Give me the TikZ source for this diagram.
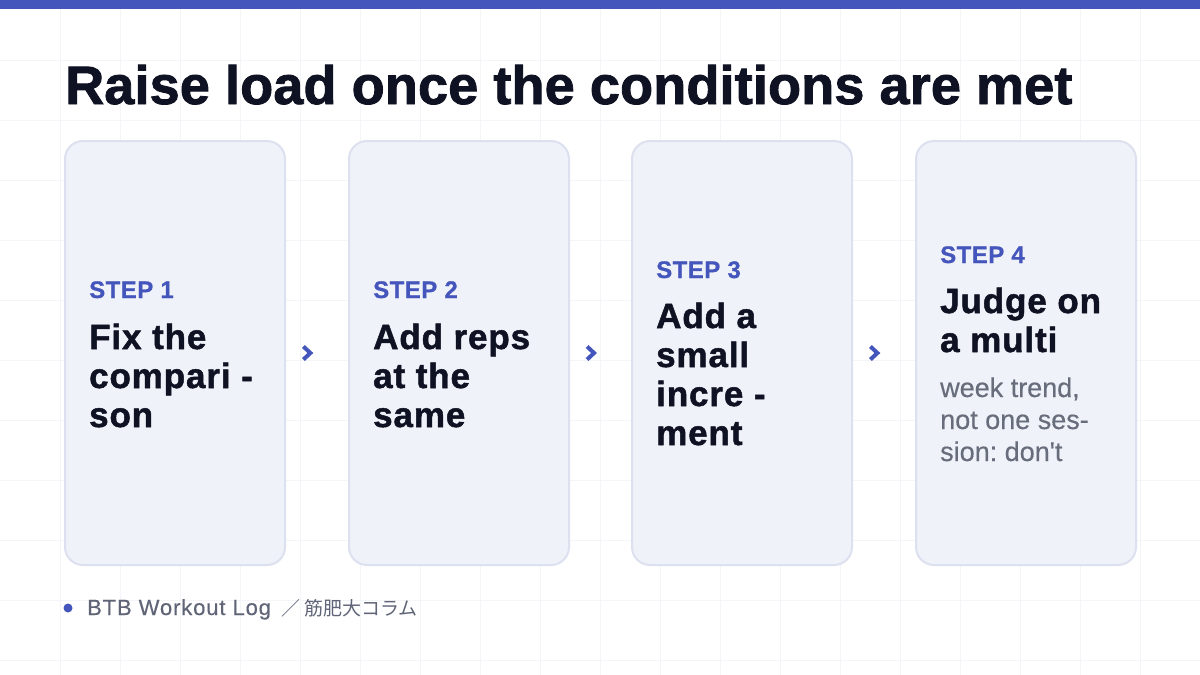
\documentclass[tikz,border=0pt]{standalone}
\usepackage{fontspec}
\setmainfont{Liberation Sans}
\newfontfamily\titlefont{Liberation Sans}[BoldFeatures={FakeBold=1.6, LetterSpace=0.3}]
\newfontfamily\bodyfont{Liberation Sans}[BoldFeatures={FakeBold=1.4, LetterSpace=2.5}]
\newfontfamily\stepfont{Liberation Sans}[BoldFeatures={FakeBold=0.8, LetterSpace=2}]
\newfontfamily\subfont{Liberation Sans}[FakeBold=0.4]
\newfontfamily\footfont{Liberation Sans}[LetterSpace=4, FakeBold=0.3]
\newfontfamily\jpfont{Noto Sans CJK JP}
\usetikzlibrary{calc}
\frenchspacing
\definecolor{accent}{HTML}{4455BB}
\definecolor{ink}{HTML}{0F1222}
\definecolor{cardfill}{HTML}{F0F2FA}
\definecolor{cardline}{HTML}{DDE1EF}
\definecolor{gridc}{HTML}{F4F5F8}
\definecolor{muted}{HTML}{5F6577}
\definecolor{bodygray}{HTML}{686D7C}
\begin{document}
\begin{tikzpicture}[x=1pt,y=-1pt,
  card/.style={draw=cardline, line width=2pt, fill=cardfill, rounded corners=18pt,
    minimum width=220pt, minimum height=424pt, inner sep=0pt, outer sep=0pt, anchor=north west},
  steplabel/.style={anchor=base west, inner sep=0pt, text=accent, font=\fontsize{24}{28}\selectfont\stepfont\bfseries},
  bodytext/.style={anchor=base west, inner sep=0pt, text=ink, align=left, font=\fontsize{35}{39}\selectfont\bodyfont\bfseries},
  subtext/.style={anchor=base west, inner sep=0pt, text=bodygray, align=left, font=\fontsize{27}{32}\selectfont\subfont},
  chev/.style={draw=accent, line width=4pt, line cap=butt, line join=miter},
  gridline/.style={draw=gridc, line width=1pt},
]
\useasboundingbox (0,0) rectangle (1200,675);
\fill[white] (0,0) rectangle (1200,675);
% background grid
\foreach \x in {60,120,...,1140} \draw[gridline] (\x,0) -- (\x,675);
\foreach \y in {60,120,...,660} \draw[gridline] (0,\y) -- (1200,\y);
% top bar
\fill[accent] (0,0) rectangle (1200,9);
% title
\node[anchor=base west, inner sep=0pt, text=ink, font=\fontsize{54}{60}\selectfont\titlefont\bfseries] (title) at (65,104) {Raise load once the conditions are met};
% cards
\node[card] (c1) at (65,141) {};
\node[card] (c2) at (349,141) {};
\node[card] (c3) at (632,141) {};
\node[card] (c4) at (916,141) {};
% card 1 (multi-line nodes: base = last line's baseline)
\node[steplabel] (s1) at (89,298) {STEP 1};
\node[bodytext] (b1) at (89,427) {Fix the\\compari -\\son};
% card 2
\node[steplabel] (s2) at (373,298) {STEP 2};
\node[bodytext] (b2) at (373,427) {Add reps\\at the\\same};
% card 3
\node[steplabel] (s3) at (656,278) {STEP 3};
\node[bodytext] (b3) at (656,445) {Add a\\small\\incre -\\ment};
% card 4
\node[steplabel] (s4) at (940,263) {STEP 4};
\node[bodytext] (b4) at (940,352) {Judge on\\a multi};
\node[subtext] (t4) at (940,461) {week trend,\\not one ses-\\sion: don\textquotesingle t};
% chevrons
\coordinate (k1) at ($(c1.east)!0.35!(c2.west)$);
\coordinate (k2) at ($(c2.east)!0.35!(c3.west)$);
\coordinate (k3) at ($(c3.east)!0.35!(c4.west)$);
\foreach \k in {k1,k2,k3}
  \draw[chev] ($(\k)+(-4,-6.5)$) -- ($(\k)+(3,0)$) -- ($(\k)+(-4,6.5)$);
% footer
\node[circle, fill=accent, minimum size=9pt, inner sep=0pt] (dot) at (68,608) {};
\node[anchor=base west, inner sep=0pt, text=muted, font=\fontsize{22}{24}\selectfont\footfont] (foot) at (87,615) {BTB Workout Log\enspace{\fontsize{19}{24}\selectfont\jpfont ／\,筋肥大コラム}};
\end{tikzpicture}
\end{document}
